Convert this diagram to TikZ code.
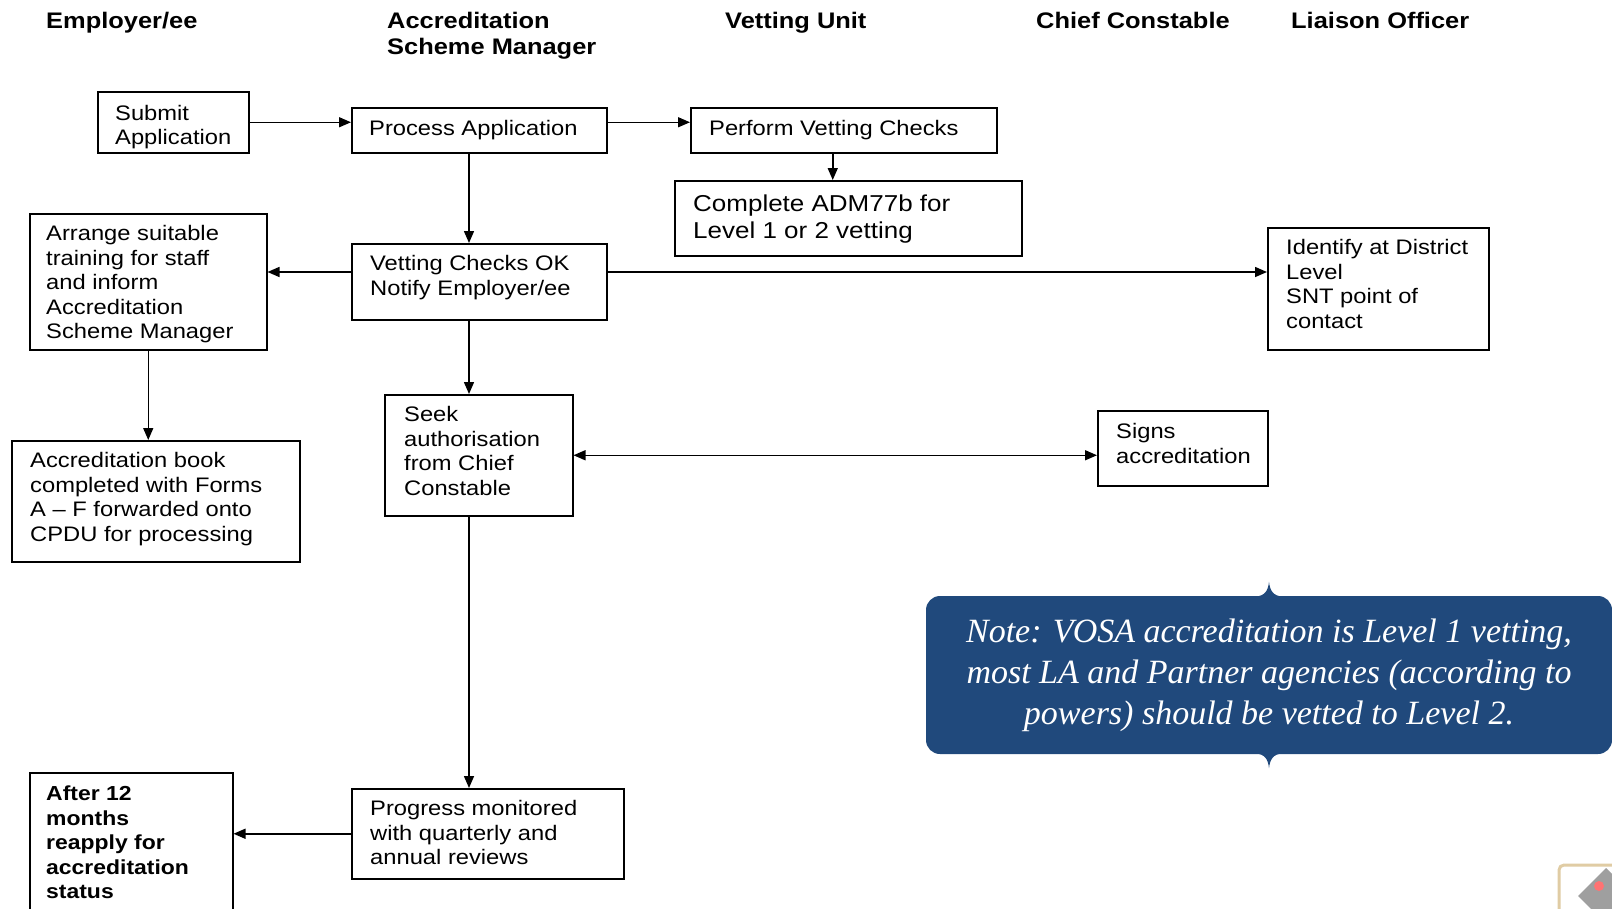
\documentclass[tikz,border=0pt]{standalone}
\usepackage{fontspec}
\setmainfont{Liberation Sans}[FakeStretch=1.13]
\newfontfamily\notefont{Liberation Serif}
\usetikzlibrary{arrows.meta,calc}
\definecolor{notecol}{RGB}{32,73,124}
\definecolor{icontan}{RGB}{224,204,164}
\newcommand\mlines[1]{\begin{tabular}[t]{@{}l@{}}#1\end{tabular}}
\begin{document}
\begin{tikzpicture}[x=1pt,y=-1pt,
  box/.style={draw, line width=1.5pt, inner sep=0pt, anchor=north west},
  txt/.style={anchor=base west, inner sep=0pt, font=\fontsize{21}{24.5}\selectfont},
  bigtxt/.style={anchor=base west, inner sep=0pt, font=\fontsize{23}{27}\selectfont},
  hdr/.style={anchor=base west, inner sep=0pt, font=\bfseries\fontsize{22.5}{26}\selectfont},
  arr/.style={line width=1.5pt, -{Triangle[length=12pt,width=10pt]}},
  darr/.style={line width=1.5pt, {Triangle[length=12pt,width=10pt]}-{Triangle[length=12pt,width=10pt]}},
  notebox/.style={fill=notecol, rounded corners=14pt, inner sep=0pt, text=white, align=center,
    font=\notefont\itshape\fontsize{34}{41}\selectfont}]
\useasboundingbox (0,0) rectangle (1612,908);

% headers
\node[hdr] (h1) at (46,28) {Employer/ee};
\node[hdr] (h2) at (387,28) {\mlines{Accreditation\\Scheme Manager}};
\node[hdr] (h3) at (725,28) {Vetting Unit};
\node[hdr] (h4) at (1036,28) {Chief Constable};
\node[hdr] (h5) at (1291,28) {Liaison Officer};

% boxes
\node[box, minimum width=151, minimum height=61] (sub) at (97,91) {};
\node[box, minimum width=255, minimum height=45] (proc) at (351,107) {};
\node[box, minimum width=306, minimum height=45] (perf) at (690,107) {};
\node[box, minimum width=347, minimum height=75] (comp) at (674,180) {};
\node[box, minimum width=237, minimum height=136] (arrg) at (29,213) {};
\node[box, minimum width=255, minimum height=76] (vok) at (351,243) {};
\node[box, minimum width=221, minimum height=122] (iden) at (1267,227) {};
\node[box, minimum width=288, minimum height=121] (book) at (11,440) {};
\node[box, minimum width=188, minimum height=121] (seek) at (384,394) {};
\node[box, minimum width=170, minimum height=75] (sign) at (1097,410) {};
\node[box, minimum width=272, minimum height=90] (prog) at (351,788) {};
\node[box, minimum width=203, minimum height=150] (aft) at (29,772) {};

% texts
\begin{scope}
\clip (sub.north west) rectangle (sub.south east);
\node[txt] (sub-t) at (115,120) {\mlines{Submit\\Application}};
\end{scope}
\node[txt] (proc-t) at (369,135.5) {Process Application};
\node[txt] (perf-t) at (709,135.5) {Perform Vetting Checks};
\node[bigtxt] (comp-t) at (693,211) {\mlines{Complete ADM77b for\\Level 1 or 2 vetting}};
\begin{scope}
\clip (arrg.north west) rectangle (arrg.south east);
\node[txt] (arrg-t) at (46,240.5) {\mlines{Arrange suitable\\training for staff\\and inform\\Accreditation\\Scheme Manager}};
\end{scope}
\begin{scope}
\clip (vok.north west) rectangle (vok.south east);
\node[txt] (vok-t) at (370,270.5) {\mlines{Vetting Checks OK\\Notify Employer/ee}};
\end{scope}
\node[txt] (iden-t) at (1286,254.5) {\mlines{Identify at District\\Level\\SNT point of\\contact}};
\node[txt] (book-t) at (30,467.5) {\mlines{Accreditation book\\completed with Forms\\A -- F forwarded onto\\CPDU for processing}};
\node[txt] (seek-t) at (404,421.5) {\mlines{Seek\\authorisation\\from Chief\\Constable}};
\node[txt] (sign-t) at (1116,438.5) {\mlines{Signs\\accreditation}};
\node[txt] (prog-t) at (370,815.5) {\mlines{Progress monitored\\with quarterly and\\annual reviews}};
\node[txt, font=\bfseries\fontsize{20.3}{24.5}\selectfont] (aft-t) at (46,800.5) {\mlines{After 12\\months\\reapply for\\accreditation\\status}};

% connectors
\coordinate (colx) at (469,0);
\coordinate (rowy) at (0,272);
\draw[arr] (sub.east) -- (sub.east -| proc.west);
\draw[arr] (proc.east |- sub.east) -- (perf.west |- sub.east);
\draw[arr] ([xshift=-11pt]perf.south) -- ([xshift=-11pt]perf.south |- comp.north);
\draw[arr] (proc.south -| colx) -- (vok.north -| colx);
\draw[arr] (vok.west |- rowy) -- (arrg.east |- rowy);
\draw[arr] (vok.east |- rowy) -- (iden.west |- rowy);
\draw[arr] (vok.south -| colx) -- (seek.north -| colx);
\draw[arr] (arrg.south) -- (arrg.south |- book.north);
\draw[darr] (seek.east) -- (seek.east -| sign.west);
\draw[arr] (seek.south -| colx) -- (prog.north -| colx);
\draw[arr] (prog.west) -- (prog.west -| aft.east);

% note callout
\node[notebox, minimum width=686, minimum height=158] (note) at (1269,675)
  {Note: VOSA accreditation is Level 1 vetting,\\most LA and Partner agencies (according to\\powers) should be vetted to Level 2.};
\fill[notecol] ($(note.north)+(-14,1)$) .. controls ($(note.north)+(-4,0)$) and ($(note.north)+(-1,-5)$) .. ($(note.north)+(0,-14)$)
  .. controls ($(note.north)+(1,-5)$) and ($(note.north)+(4,0)$) .. ($(note.north)+(14,1)$) -- cycle;
\fill[notecol] ($(note.south)+(-14,-1)$) .. controls ($(note.south)+(-4,0)$) and ($(note.south)+(-1,5)$) .. ($(note.south)+(0,14)$)
  .. controls ($(note.south)+(1,5)$) and ($(note.south)+(4,0)$) .. ($(note.south)+(14,-1)$) -- cycle;

% partial icon in the corner
\draw[icontan, line width=3pt, rounded corners=5pt, fill=white] (1559,865) rectangle (1640,940);
\fill[gray!75] (1578,896) -- (1606,868) -- (1634,896) -- (1606,924) -- cycle;
\fill[red!55] (1599,886) circle (5);
\end{tikzpicture}
\end{document}
